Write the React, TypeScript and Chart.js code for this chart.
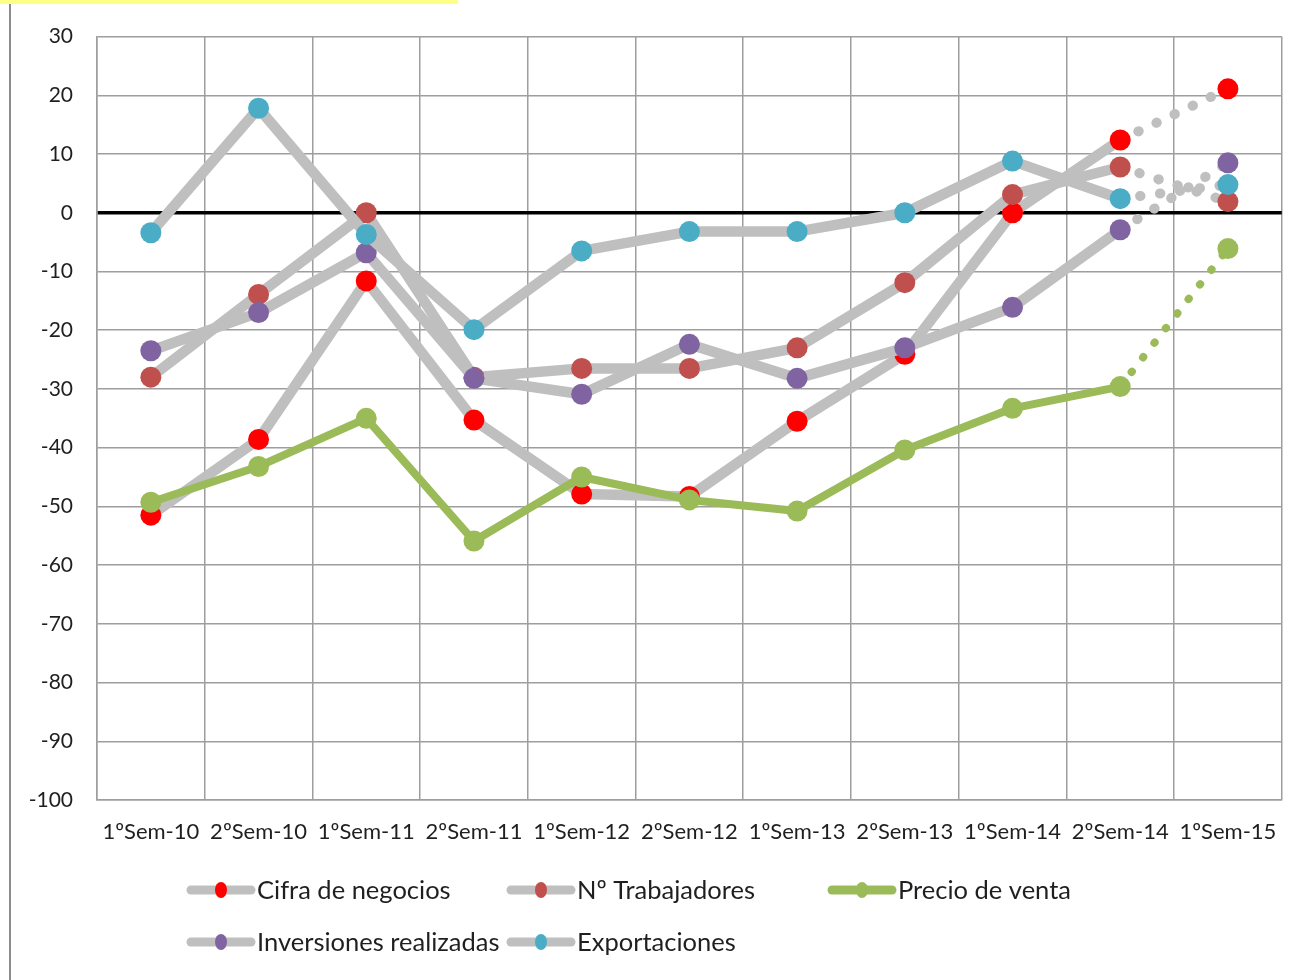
import React, { useEffect, useRef } from 'react';
import { Chart, registerables } from 'chart.js';

Chart.register(...registerables);

const categories = [
  '1ºSem-10', '2ºSem-10', '1ºSem-11', '2ºSem-11', '1ºSem-12', '2ºSem-12',
  '1ºSem-13', '2ºSem-13', '1ºSem-14', '2ºSem-14', '1ºSem-15',
];

const cifraNegocios = [-51.5, -38.6, -11.6, -35.3, -47.9, -48.3, -35.5, -24.1, 0, 12.4, 21.1];
const trabajadores = [-28.0, -13.9, 0, -28.0, -26.5, -26.5, -23.0, -11.9, 3.1, 7.8, 1.9];
const precioVenta = [-49.3, -43.2, -35.0, -55.9, -45.0, -48.9, -50.8, -40.4, -33.3, -29.6, -6.1];
const inversiones = [-23.5, -17.0, -6.8, -28.2, -30.9, -22.4, -28.2, -23.0, -16.1, -2.9, 8.5];
const exportaciones = [-3.4, 17.8, -3.7, -19.9, -6.5, -3.2, -3.2, 0, 8.8, 2.4, 4.8];

const yMin = -100;
const yMax = 30;
const yStep = 10;

const seriesNames = [
  'Cifra de negocios',
  'Nº Trabajadores',
  'Precio de venta',
  'Inversiones realizadas',
  'Exportaciones',
];
const seriesValues = [cifraNegocios, trabajadores, precioVenta, inversiones, exportaciones];
const lineColors = ['#bfbfbf', '#bfbfbf', '#9bbb59', '#bfbfbf', '#bfbfbf'];
const pointColors = ['#ff0000', '#c0504d', '#9bbb59', '#8064a2', '#4bacc6'];
const lineWidths = [10.5, 10.5, 8, 10.5, 10.5];

const FONT = 'Lato, "Open Sans", sans-serif';
const TEXT_COLOR = '#1f1f1f';

const legendPlugin = {
  id: 'gridLegend',
  afterDraw(chart: any) {
    const ctx = chart.ctx as CanvasRenderingContext2D;
    const left = chart.chartArea.left;
    const colX = [left + 90, left + 410, left + 731];
    const rowY = [chart.chartArea.bottom + 90, chart.chartArea.bottom + 142];
    ctx.save();
    seriesNames.forEach((name, i) => {
      const col = i % 3;
      const row = Math.floor(i / 3);
      const x = colX[col];
      const y = rowY[row];
      ctx.beginPath();
      ctx.lineCap = 'round';
      ctx.strokeStyle = lineColors[i];
      ctx.lineWidth = 9;
      ctx.moveTo(x + 4, y);
      ctx.lineTo(x + 64, y);
      ctx.stroke();
      ctx.beginPath();
      ctx.fillStyle = pointColors[i];
      ctx.ellipse(x + 34, y, 6, 8, 0, 0, Math.PI * 2);
      ctx.fill();
      ctx.fillStyle = TEXT_COLOR;
      ctx.font = `25.5px ${FONT}`;
      ctx.textAlign = 'left';
      ctx.textBaseline = 'middle';
      ctx.fillText(name, x + 70, y + 1);
    });
    ctx.restore();
  },
};

export default function App() {
  const canvasRef = useRef<HTMLCanvasElement | null>(null);

  useEffect(() => {
    if (!canvasRef.current) return;
    const lastSeg = categories.length - 2;
    const datasets = seriesNames.map((name, i) => ({
      label: name,
      data: seriesValues[i],
      borderColor: lineColors[i],
      backgroundColor: pointColors[i],
      pointBackgroundColor: pointColors[i],
      pointBorderColor: pointColors[i],
      pointBorderWidth: 0,
      pointRadius: 10.5,
      pointHoverRadius: 10.5,
      borderWidth: lineWidths[i],
      borderCapStyle: 'round' as const,
      borderJoinStyle: 'round' as const,
      fill: false,
      tension: 0,
      order: seriesNames.length - i,
      segment: {
        borderDash: (c: any) => (c.p0DataIndex === lastSeg ? [0.5, i === 2 ? 18 : 19.5] : undefined),
        borderCapStyle: (c: any) => (c.p0DataIndex === lastSeg ? 'round' : undefined),
        borderWidth: (c: any) => (c.p0DataIndex === lastSeg ? (i === 2 ? 8 : 10) : undefined),
      },
    }));

    const chart = new Chart(canvasRef.current, {
      type: 'line',
      data: { labels: categories, datasets },
      options: {
        animation: false,
        responsive: false,
        maintainAspectRatio: false,
        layout: { padding: { left: 0, right: 14, top: 35, bottom: 0 } },
        plugins: {
          legend: { display: false },
          tooltip: { enabled: false },
        },
        scales: {
          x: {
            offset: true,
            grid: {
              offset: true,
              color: '#9e9e9e',
              lineWidth: 1.5,
              drawTicks: false,
            },
            border: { color: '#9e9e9e', width: 1.5 },
            ticks: {
              color: TEXT_COLOR,
              font: { family: FONT, size: 22 },
              padding: 19,
              maxRotation: 0,
              autoSkip: false,
            },
            afterFit: (scale: any) => {
              scale.height = 180;
            },
          },
          y: {
            min: yMin,
            max: yMax,
            grid: {
              color: (c: any) => (c.tick && c.tick.value === 0 ? '#000000' : '#9e9e9e'),
              lineWidth: (c: any) => (c.tick && c.tick.value === 0 ? 3.5 : 1.5),
              drawTicks: false,
            },
            border: { color: '#9e9e9e', width: 1.5 },
            ticks: {
              stepSize: yStep,
              color: TEXT_COLOR,
              font: { family: FONT, size: 21 },
              padding: 24,
            },
            afterFit: (scale: any) => {
              scale.width = 97;
            },
          },
        },
      },
      plugins: [legendPlugin],
    });
    return () => chart.destroy();
  }, []);

  return (
    <div style={{ position: 'absolute', left: 0, top: 0, width: 1296, height: 980, background: '#ffffff', overflow: 'hidden' }}>
      <div style={{ position: 'absolute', left: 0, top: 0, width: 458, height: 4, background: '#ffff88' }} />
      <div style={{ position: 'absolute', left: 9, top: 4, width: 2, height: 976, background: '#8c8c8c' }} />
      <canvas ref={canvasRef} width={1296} height={980} style={{ position: 'absolute', left: 0, top: 0, width: 1296, height: 980 }} />
    </div>
  );
}
